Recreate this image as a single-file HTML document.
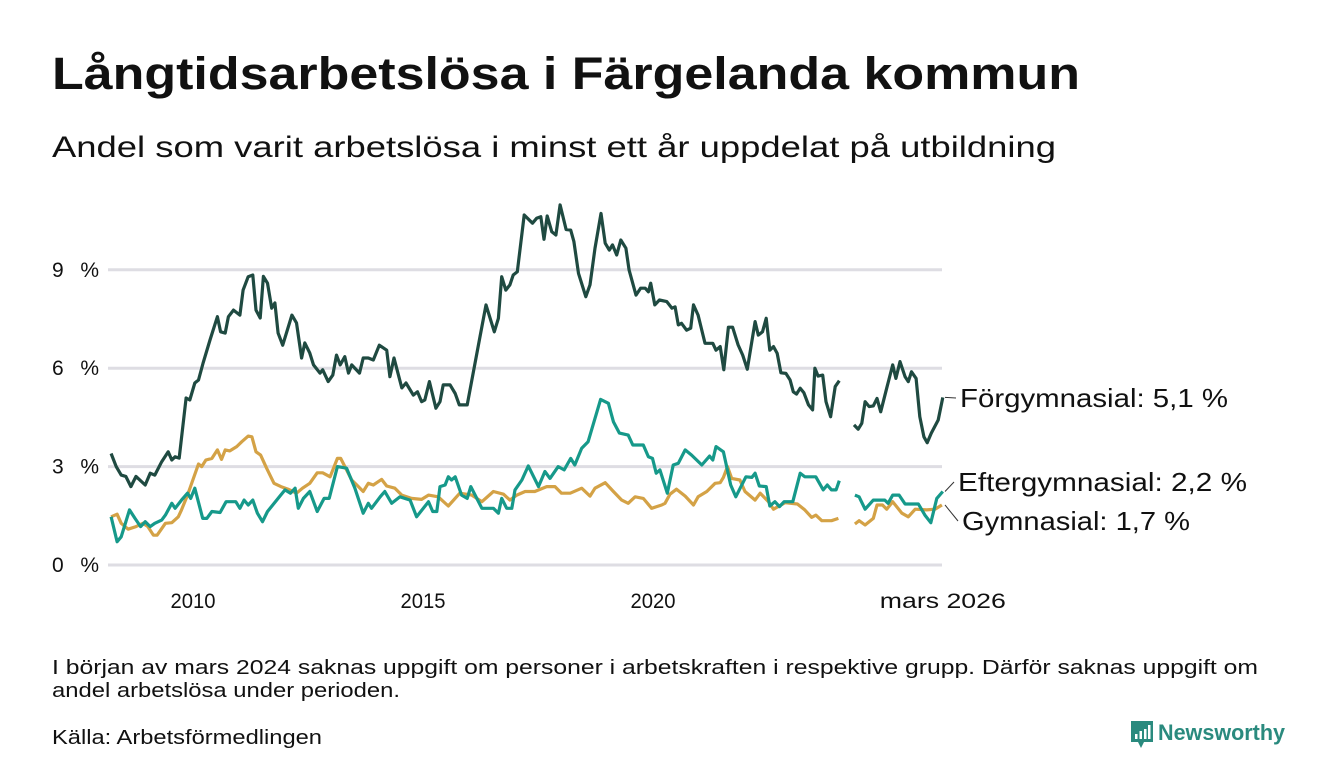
<!DOCTYPE html>
<html><head><meta charset="utf-8"><style>
html,body{margin:0;padding:0;background:#fff;}
svg{display:block;font-family:"Liberation Sans","DejaVu Sans",sans-serif;}
</style></head><body>
<svg id="chart" width="1340" height="780" viewBox="0 0 1340 780" xmlns="http://www.w3.org/2000/svg">
<text x="52" y="89" font-size="45" font-weight="bold" fill="#111" textLength="1028" lengthAdjust="spacingAndGlyphs">Långtidsarbetslösa i Färgelanda kommun</text>
<text x="52" y="157" font-size="30" fill="#111" textLength="1004" lengthAdjust="spacingAndGlyphs">Andel som varit arbetslösa i minst ett år uppdelat på utbildning</text>
<g id="grid"></g>
<g id="yticks"></g>
<g id="xticks"></g>
<g id="lines"></g>
<g id="labels"></g>
<text x="52" y="674" font-size="20" fill="#111" textLength="1206" lengthAdjust="spacingAndGlyphs">I början av mars 2024 saknas uppgift om personer i arbetskraften i respektive grupp. Därför saknas uppgift om</text>
<text x="52" y="697" font-size="20" fill="#111" textLength="348" lengthAdjust="spacingAndGlyphs">andel arbetslösa under perioden.</text>
<text x="52" y="744" font-size="20" fill="#111" textLength="270" lengthAdjust="spacingAndGlyphs">Källa: Arbetsförmedlingen</text>
<g>
<path d="M1131 721 h22 v21 h-9 l-3 6 l-3 -6 h-7 z" fill="#2a8a7e"/>
<rect x="1135" y="734" width="2.5" height="5" fill="#fff"/><rect x="1139.5" y="731" width="2.5" height="8" fill="#fff"/><rect x="1144" y="729" width="2.5" height="10" fill="#fff"/><rect x="1148" y="725" width="2.5" height="14" fill="#fff"/>
<text x="1158" y="740" font-size="22" font-weight="bold" fill="#2a8a7e" textLength="127" lengthAdjust="spacingAndGlyphs">Newsworthy</text>
</g>
</svg>
<script>
// Data (decimal years, percent)
const yTicks = [0, 3, 6, 9];
const yTickLabels = ["0 %", "3 %", "6 %", "9 %"];
const xTicks = [2010, 2015, 2020, 2026.3];
const xTickLabels = ["2010", "2015", "2020", "mars 2026"];

const forT = [2008.22,2008.33,2008.44,2008.54,2008.65,2008.76,2008.96,2009.07,2009.17,2009.32,2009.46,2009.54,2009.61,2009.70,2009.85,2009.93,2010.04,2010.12,2010.22,2010.37,2010.53,2010.60,2010.70,2010.77,2010.88,2011.02,2011.09,2011.20,2011.30,2011.37,2011.46,2011.53,2011.62,2011.71,2011.78,2011.85,2011.95,2012.15,2012.25,2012.36,2012.43,2012.54,2012.62,2012.76,2012.82,2012.94,2013.04,2013.12,2013.20,2013.30,2013.38,2013.45,2013.62,2013.70,2013.81,2013.92,2014.05,2014.21,2014.28,2014.37,2014.54,2014.63,2014.79,2014.88,2014.97,2015.04,2015.14,2015.28,2015.37,2015.44,2015.59,2015.70,2015.79,2015.96,2016.24,2016.37,2016.55,2016.64,2016.71,2016.80,2016.89,2016.96,2017.05,2017.20,2017.38,2017.47,2017.56,2017.63,2017.70,2017.80,2017.89,2017.98,2018.11,2018.21,2018.28,2018.38,2018.54,2018.63,2018.74,2018.87,2018.96,2019.05,2019.12,2019.21,2019.30,2019.41,2019.48,2019.63,2019.73,2019.83,2019.90,2019.95,2020.04,2020.14,2020.30,2020.41,2020.48,2020.55,2020.62,2020.73,2020.82,2020.88,2020.98,2021.13,2021.30,2021.37,2021.46,2021.54,2021.64,2021.73,2021.85,2021.95,2022.05,2022.22,2022.29,2022.38,2022.46,2022.54,2022.62,2022.70,2022.78,2022.89,2022.98,2023.05,2023.12,2023.20,2023.28,2023.38,2023.47,2023.52,2023.59,2023.69,2023.76,2023.86,2023.96,2024.05,2024.2,2024.37,2024.46,2024.54,2024.61,2024.70,2024.79,2024.87,2024.95,2025.08,2025.21,2025.28,2025.37,2025.48,2025.55,2025.62,2025.72,2025.80,2025.89,2025.96,2026.05,2026.20,2026.30];
const forV = [3.4,3.0,2.74,2.7,2.39,2.7,2.44,2.8,2.74,3.15,3.45,3.2,3.3,3.26,5.09,5.03,5.55,5.64,6.16,6.86,7.57,7.11,7.07,7.57,7.77,7.62,8.38,8.79,8.84,7.77,7.53,8.8,8.59,7.83,7.99,7.07,6.7,7.62,7.38,6.31,6.77,6.46,6.1,5.85,5.95,5.59,5.79,6.4,6.1,6.35,5.85,6.1,5.85,6.31,6.31,6.25,6.7,6.55,5.74,6.31,5.4,5.55,5.18,5.28,4.98,5.03,5.59,4.78,4.98,5.49,5.49,5.23,4.88,4.88,6.96,7.93,7.11,7.52,8.79,8.38,8.54,8.84,8.94,10.67,10.42,10.57,10.62,9.93,10.64,10.16,10.06,10.98,10.23,10.21,9.86,8.89,8.18,8.54,9.66,10.72,9.81,9.6,9.76,9.45,9.91,9.66,8.99,8.23,8.44,8.44,8.33,8.59,7.93,8.08,8.03,7.83,7.87,7.32,7.37,7.16,7.22,7.93,7.62,6.76,6.76,6.55,6.66,5.95,7.25,7.25,6.71,6.4,5.97,7.42,7.01,7.11,7.52,6.55,6.66,6.45,5.86,5.84,5.64,5.28,5.21,5.39,5.25,4.88,4.73,6.0,5.76,5.79,4.98,4.52,5.44,5.62,null,4.27,4.14,4.32,4.98,4.83,4.85,5.08,4.67,5.39,6.1,5.69,6.2,5.74,5.59,5.89,5.69,4.52,3.91,3.73,4.02,4.42,5.11];

const eftT = [2008.22,2008.35,2008.44,2008.62,2008.74,2008.86,2008.96,2009.07,2009.17,2009.32,2009.40,2009.54,2009.61,2009.75,2009.88,2009.95,2010.04,2010.21,2010.30,2010.41,2010.59,2010.72,2010.93,2011.02,2011.11,2011.20,2011.30,2011.40,2011.51,2011.62,2011.89,2012.00,2012.12,2012.22,2012.29,2012.40,2012.54,2012.70,2012.85,2012.96,2013.14,2013.34,2013.52,2013.70,2013.81,2013.88,2014.07,2014.17,2014.32,2014.50,2014.72,2014.86,2015.12,2015.21,2015.30,2015.37,2015.48,2015.55,2015.62,2015.70,2015.84,2015.96,2016.04,2016.28,2016.53,2016.64,2016.71,2016.82,2016.93,2017.00,2017.15,2017.29,2017.51,2017.65,2017.76,2017.94,2018.07,2018.21,2018.30,2018.45,2018.59,2018.86,2019.03,2019.14,2019.27,2019.46,2019.56,2019.79,2019.90,2019.99,2020.07,2020.15,2020.31,2020.44,2020.55,2020.70,2020.84,2021.06,2021.23,2021.30,2021.37,2021.53,2021.69,2021.80,2022.02,2022.15,2022.22,2022.31,2022.46,2022.54,2022.65,2022.75,2022.85,2023.04,2023.20,2023.30,2023.54,2023.70,2023.79,2023.88,2023.98,2024.05,2024.2,2024.39,2024.48,2024.61,2024.79,2025.04,2025.11,2025.21,2025.35,2025.48,2025.77,2025.91,2026.04,2026.17,2026.30];
const eftV = [1.47,0.71,0.86,1.68,1.42,1.17,1.32,1.17,1.27,1.37,1.52,1.88,1.73,1.98,2.19,2.03,2.34,1.42,1.42,1.63,1.6,1.93,1.93,1.73,1.98,1.83,1.98,1.58,1.32,1.63,2.1,2.29,2.19,2.34,1.73,2.03,2.24,1.63,2.03,2.03,3.0,2.95,2.34,1.58,1.88,1.73,2.08,2.24,1.88,2.08,1.98,1.47,1.93,1.63,1.63,2.39,2.44,2.69,2.59,2.69,2.13,2.03,2.39,1.73,1.73,1.58,2.03,1.73,1.73,2.29,2.59,3.02,2.39,2.85,2.64,3.0,2.9,3.25,3.05,3.56,3.76,5.05,4.93,4.37,4.02,3.96,3.66,3.66,3.3,3.25,2.8,2.9,2.19,3.05,3.1,3.51,3.35,3.05,3.32,3.2,3.61,3.45,2.44,2.08,2.69,2.67,2.8,2.41,2.39,1.8,1.93,1.78,1.93,1.93,2.8,2.69,2.69,2.29,2.44,2.29,2.29,2.57,null,2.13,2.08,1.7,1.98,1.98,1.88,2.13,2.13,1.86,1.86,1.52,1.29,2.03,2.24];

const gymT = [2008.22,2008.35,2008.44,2008.59,2008.76,2008.91,2009.02,2009.14,2009.22,2009.40,2009.54,2009.68,2009.75,2009.88,2010.12,2010.19,2010.28,2010.41,2010.53,2010.62,2010.70,2010.80,2010.95,2011.06,2011.20,2011.28,2011.37,2011.47,2011.60,2011.76,2011.91,2012.07,2012.25,2012.38,2012.54,2012.70,2012.82,2012.98,2013.14,2013.21,2013.45,2013.56,2013.70,2013.81,2013.92,2014.10,2014.21,2014.39,2014.54,2014.75,2014.97,2015.12,2015.33,2015.55,2015.80,2016.06,2016.28,2016.53,2016.75,2016.89,2017.04,2017.22,2017.43,2017.69,2017.87,2018.01,2018.20,2018.45,2018.63,2018.74,2018.96,2019.14,2019.32,2019.46,2019.61,2019.79,2019.97,2020.19,2020.26,2020.37,2020.51,2020.70,2020.88,2020.98,2021.17,2021.35,2021.46,2021.53,2021.62,2021.71,2021.89,2022.00,2022.22,2022.33,2022.51,2022.62,2022.87,2023.14,2023.30,2023.45,2023.54,2023.67,2023.88,2024.03,2024.2,2024.39,2024.48,2024.61,2024.79,2024.87,2024.99,2025.08,2025.21,2025.41,2025.55,2025.70,2025.95,2026.13,2026.28];
const gymV = [1.47,1.55,1.27,1.09,1.17,1.27,1.17,0.91,0.91,1.27,1.29,1.47,1.68,2.13,3.08,3.0,3.2,3.25,3.51,3.22,3.51,3.48,3.61,3.76,3.93,3.91,3.45,3.35,2.95,2.49,2.39,2.31,2.19,2.34,2.49,2.81,2.81,2.69,3.25,3.25,2.59,2.44,2.24,2.49,2.44,2.61,2.41,2.34,2.13,2.03,2.0,2.13,2.08,1.8,2.19,2.13,1.93,2.24,2.16,1.98,2.13,2.24,2.24,2.39,2.39,2.19,2.19,2.34,2.1,2.34,2.51,2.24,1.98,1.88,2.08,2.03,1.73,1.83,1.88,2.16,2.31,2.1,1.83,2.08,2.24,2.49,2.51,2.67,3.0,2.64,2.59,2.24,1.98,2.19,1.93,1.7,1.9,1.86,1.68,1.45,1.52,1.35,1.35,1.42,null,1.25,1.35,1.22,1.42,1.83,1.83,1.7,1.93,1.58,1.47,1.7,1.68,1.7,1.83];

const seriesNames = ["Förgymnasial: 5,1 %", "Eftergymnasial: 2,2 %", "Gymnasial: 1,7 %"];

const NS = "http://www.w3.org/2000/svg";
const X0 = 108, X1 = 942;
function xScale(t){ return 193 + (t - 2010) * 46; }
function yScale(v){ return 565 - v * 32.8; }
function mk(tag, attrs, parent){ const e = document.createElementNS(NS, tag); for (const k in attrs) e.setAttribute(k, attrs[k]); parent.appendChild(e); return e; }

const grid = document.getElementById('grid');
const yt = document.getElementById('yticks');
yTicks.forEach((v, i) => {
  const l = mk('line', {x1: X0, x2: X1, y1: yScale(v), y2: yScale(v), stroke: '#dedde3', 'stroke-width': 3}, grid);
  
  
  const t = mk('text', {x: 52, y: yScale(v) + 7, 'font-size': 21, fill: '#111', textLength: 47, lengthAdjust: 'spacing'}, yt);
  t.textContent = yTickLabels[i];
  
  
});
const xt = document.getElementById('xticks');
xTicks.forEach((v, i) => {
  const attrs = {x: xScale(v), y: 608, 'font-size': 21, fill: '#111', 'text-anchor': 'middle'};
  if (xTickLabels[i].length > 4) { attrs.textLength = 126; attrs.lengthAdjust = 'spacingAndGlyphs'; }
  else { attrs.textLength = 45; attrs.lengthAdjust = 'spacingAndGlyphs'; }
  const t = mk('text', attrs, xt);
  t.textContent = xTickLabels[i];
  
  
});

function pathFor(ts, vs){
  let d = '', pen = false;
  for (let i = 0; i < ts.length; i++){
    if (vs[i] === null){ pen = false; continue; }
    d += (pen ? 'L' : 'M') + xScale(ts[i]).toFixed(1) + ',' + yScale(vs[i]).toFixed(1);
    pen = true;
  }
  return d;
}
const lines = document.getElementById('lines');
const series = [[gymT, gymV, '#d4a246', 'line-gymnasial'], [eftT, eftV, '#16998a', 'line-eftergymnasial'], [forT, forV, '#1f4a41', 'line-forgymnasial']];
series.forEach(s => {
  const p = mk('path', {d: pathFor(s[0], s[1]), fill: 'none', stroke: s[2], 'stroke-width': 3.2, 'stroke-linejoin': 'round'}, lines);
  
  
});

const labels = document.getElementById('labels');
const lastF = forV[forV.length-1], lastE = eftV[eftV.length-1], lastG = gymV[gymV.length-1];
const labelSpec = [[lastF, 398, 960, 268, 'label-forgymnasial'], [lastE, 482, 958, 289, 'label-eftergymnasial'], [lastG, 521, 962, 228, 'label-gymnasial']];
labelSpec.forEach((s, i) => {
  const c = mk('path', {d: 'M' + (X1 + 3) + ',' + yScale(s[0]) + ' L' + (s[2] - 4) + ',' + s[1], stroke: '#333', 'stroke-width': 1, fill: 'none'}, labels);
  
  
  const t = mk('text', {x: s[2], y: s[1] + 9, 'font-size': 26, fill: '#111', textLength: s[3], lengthAdjust: 'spacingAndGlyphs'}, labels);
  t.textContent = seriesNames[i];
  
  
});
</script>
</body></html>
